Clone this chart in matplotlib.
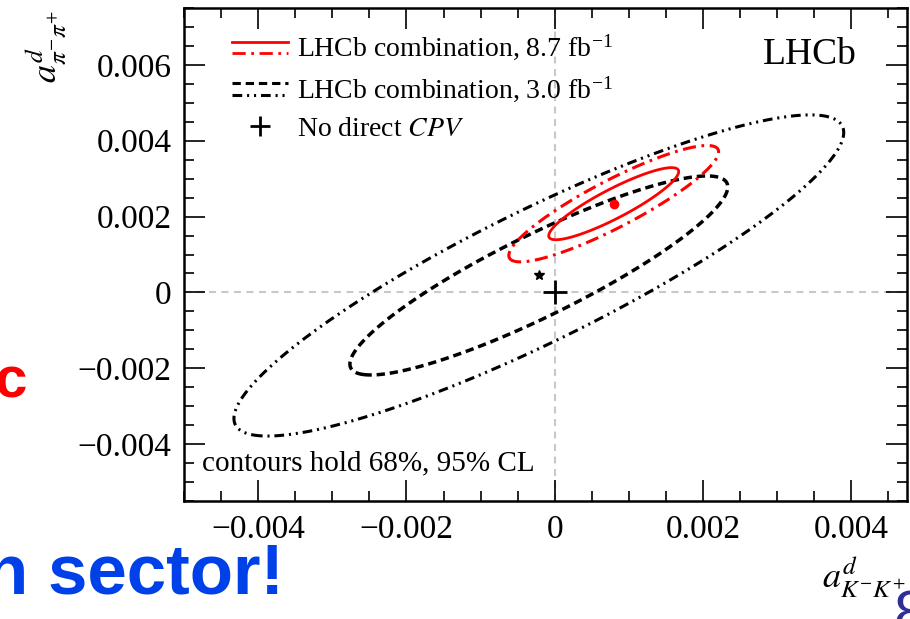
import numpy as np
import matplotlib
matplotlib.use("Agg")
import matplotlib.pyplot as plt
from matplotlib.lines import Line2D
from matplotlib.legend_handler import HandlerBase
from matplotlib.ticker import MultipleLocator, FuncFormatter

plt.rcParams['font.family'] = ['Liberation Serif', 'DejaVu Serif']
plt.rcParams['mathtext.fontset'] = 'stix'
plt.rcParams['lines.scale_dashes'] = False

# fit results: central values, uncertainties and correlation (a_KK, a_pipi)
center_87 = (0.000795, 0.00234)
sigma_87 = (0.000578, 0.000627)
rho_87 = 0.89

center_30 = (-0.000215, 0.000447)
sigma_30 = (0.00168, 0.00173)
rho_30 = 0.89

# delta chi2 for 68% and 95% CL in 2D
cl_levels = [2.30, 5.99]

xlim = (-0.005, 0.00475)
ylim = (-0.0055, 0.0075)
xticks = [-0.004, -0.002, 0, 0.002, 0.004]
yticks = [-0.004, -0.002, 0, 0.002, 0.004, 0.006]

red = '#ff0000'
ls_dashdot_red = (0, (9.5, 4, 2, 4))
ls_dash_black = (0, (6, 3.5))
ls_dashdotdot_black = (0, (7, 3.5, 1.5, 3.5, 1.5, 3.5))


def chi2(X, Y, c, s, r):
    dx = (X - c[0]) / s[0]
    dy = (Y - c[1]) / s[1]
    return (dx**2 - 2*r*dx*dy + dy**2) / (1 - r**2)


class HandlerPair(HandlerBase):
    # two line samples stacked inside one legend entry
    def create_artists(self, legend, orig_handle, xdescent, ydescent,
                       width, height, fontsize, trans):
        out = []
        for h, frac in zip(orig_handle, (0.78, 0.18)):
            y = -ydescent + frac*height
            l = Line2D([-xdescent, width - xdescent], [y, y],
                       color=h.get_color(), linestyle=h.get_linestyle(),
                       linewidth=h.get_linewidth())
            if h._unscaled_dash_pattern[1]:
                l.set_dashes(h._unscaled_dash_pattern[1])
            l.set_transform(trans)
            out.append(l)
        return out


fig = plt.figure(figsize=(9.1, 6.19), dpi=100)
ax = fig.add_axes([184/910, 1 - 501/619, (907 - 184)/910, (501 - 8)/619])

gx = np.linspace(xlim[0], xlim[1], 500)
gy = np.linspace(ylim[0], ylim[1], 500)
X, Y = np.meshgrid(gx, gy)

ax.axvline(0, color='#c8c8c8', ls=(0, (5, 4)), lw=1.5, zorder=0)
ax.axhline(0, color='#c8c8c8', ls=(0, (5, 4)), lw=1.5, zorder=0)

ax.contour(X, Y, chi2(X, Y, center_30, sigma_30, rho_30), levels=cl_levels,
           colors='black', linewidths=[2.5, 2.2],
           linestyles=[ls_dash_black, ls_dashdotdot_black])
ax.contour(X, Y, chi2(X, Y, center_87, sigma_87, rho_87), levels=cl_levels,
           colors=red, linewidths=[2.0, 2.2],
           linestyles=['solid', ls_dashdot_red])

ax.plot(*center_87, 'o', color=red, ms=6, zorder=5)
ax.plot(*center_30, '*', color='black', ms=7, zorder=5)
ax.plot(0, 0, '+', color='black', ms=17, mew=2, zorder=5)

ax.set_xlim(*xlim)
ax.set_ylim(*ylim)
ax.set_xticks(xticks)
ax.set_yticks(yticks)
ax.xaxis.set_minor_locator(MultipleLocator(0.0005))
ax.yaxis.set_minor_locator(MultipleLocator(0.0005))
fmt = FuncFormatter(lambda v, p: '0' if abs(v) < 1e-9 else f'{v:.3f}'.replace('-', '\u2212'))
ax.xaxis.set_major_formatter(fmt)
ax.yaxis.set_major_formatter(fmt)
ax.tick_params(which='both', direction='in', top=True, right=True, width=1.2, labelsize=24)
ax.tick_params(which='major', length=15)
ax.tick_params(which='minor', length=7.5)
ax.tick_params(axis='x', pad=10)
ax.tick_params(axis='y', pad=9)
for sp in ax.spines.values():
    sp.set_linewidth(1.8)

# legend
h_red = (Line2D([], [], color=red, lw=2.0),
         Line2D([], [], color=red, lw=2.0, ls=ls_dashdot_red))
h_black = (Line2D([], [], color='black', lw=2.2, ls=ls_dash_black),
           Line2D([], [], color='black', lw=2.2, ls=ls_dashdotdot_black))
h_cross = Line2D([], [], color='black', marker='+', ls='none', ms=14, mew=2)
ax.legend([h_red, h_black, h_cross],
          [r'LHCb combination, 8.7 fb$^{\mathregular{-1}}$',
           r'LHCb combination, 3.0 fb$^{\mathregular{-1}}$',
           r'No direct $CPV$'],
          handler_map={tuple: HandlerPair()},
          loc='upper left', bbox_to_anchor=(48/723, 1 - 25/493),
          frameon=False, fontsize=20, handlelength=2.0, handletextpad=0.35,
          labelspacing=0.42, borderpad=0, borderaxespad=0)

ax.text(0.80, 0.905, 'LHCb', transform=ax.transAxes, fontsize=27, ha='left', va='center')
ax.text(18/723, 31/493, 'contours hold 68%, 95% CL', transform=ax.transAxes,
        fontsize=21, ha='left', va='baseline')

fig.text(46/910, 1 - 10/619, r'$a^{d}_{\pi^{-}\pi^{+}}$', rotation=90,
         fontsize=26, ha='center', va='top')
fig.text(906/910, 1 - 555/619, r'$a^{d}_{K^{-}K^{+}}$',
         fontsize=26, ha='right', va='top')

# slide text around the figure
fig.text(-5/910, 1 - 397/619, 'c', color='#ff0000', fontsize=42, fontweight='bold',
         family='Liberation Sans', ha='left', va='baseline')
fig.text(284/910, 1 - 594/619, 'n sector!', color='#0040e8', fontsize=51,
         fontweight='bold', family='Liberation Sans', ha='right', va='baseline')
fig.text(893/910, 1 - 634/619, '8', color='#2e2e96', fontsize=44,
         family='Liberation Sans', ha='left', va='baseline')

fig.savefig('out.png', dpi=100)
